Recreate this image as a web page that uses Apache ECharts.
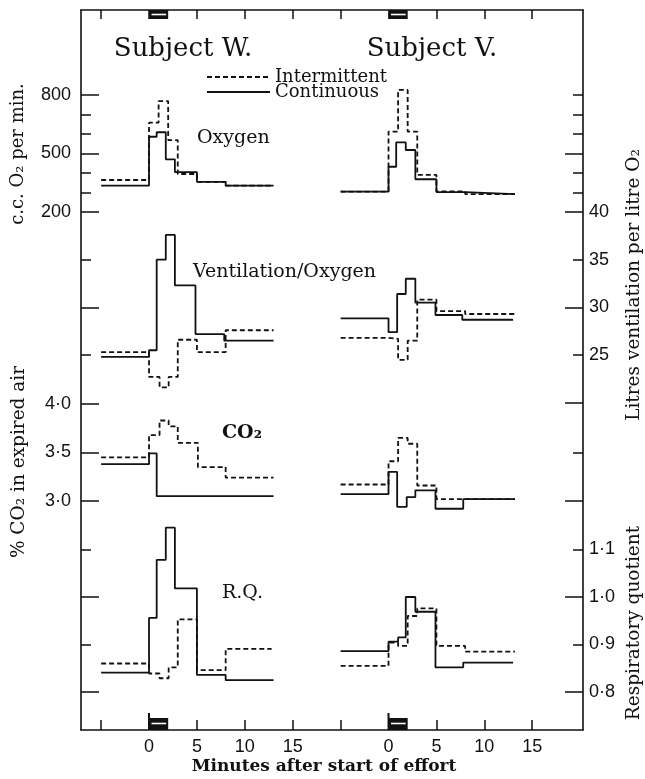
<!DOCTYPE html>
<html><head><meta charset="utf-8">
<script src="https://cdn.jsdelivr.net/npm/echarts@6/dist/echarts.min.js"></script>
<style>html,body{margin:0;padding:0;background:#fff}#c{width:645px;height:779px}</style>
</head><body><div id="c"></div>
<script>
// ---------------- DATA ----------------
const seriesNames = ['Intermittent', 'Continuous'];
const subjects = ['Subject W.', 'Subject V.'];
const xTickValues = [-5, 0, 5, 10, 15];          // minutes (per subject)
const subjectVOffset = 25;                       // V drawn 25 min to the right on the shared axis
const effortPeriod = [0, 2];                     // minutes of effort (black marks)

// Oxygen (c.c. O2 per min.)
const wO2IntT = [-5, 0, 1, 2, 3, 5, 8, 13];
const wO2IntV = [364, 658, 769, 569, 395, 355, 335];
const wO2ConT = [-5, 0, 0.8, 1.75, 2.7, 5, 8, 13];
const wO2ConV = [335, 586, 609, 470, 405, 355, 335];
const vO2IntT = [-5, 0, 1, 2, 3, 5, 8, 13.2];
const vO2IntV = [304, 612, 826, 612, 390, 306, 292];
const vO2ConT = [-5, 0, 0.8, 1.8, 2.8, 5, 8, 13.2];
const vO2ConV = [304, 432, 557, 518, 368, 302, 292];

// Ventilation / Oxygen (litres ventilation per litre O2)
const wVEIntT = [-5, 0, 1.1, 2.05, 3, 5, 8, 13];
const wVEIntV = [25.3, 22.7, 21.6, 22.7, 26.6, 25.3, 27.6];
const wVEConT = [-5, 0, 0.8, 1.75, 2.7, 4.85, 7.85, 13];
const wVEConV = [24.8, 25.5, 35.0, 37.6, 32.3, 27.2, 26.5];
const vVEIntT = [-5, 0, 1, 2, 3, 5, 8, 13.3];
const vVEIntV = [26.8, 26.7, 24.5, 26.5, 30.8, 29.6, 29.3];
const vVEConT = [-5, 0, 0.9, 1.8, 2.8, 4.9, 7.7, 13];
const vVEConV = [28.85, 27.4, 31.4, 33.0, 30.5, 29.2, 28.7];

// % CO2 in expired air
const wCO2IntT = [-5, 0, 1.1, 2.05, 3, 5.1, 8, 13];
const wCO2IntV = [3.45, 3.68, 3.83, 3.77, 3.60, 3.35, 3.24];
const wCO2ConT = [-5, 0, 0.8, 13];
const wCO2ConV = [3.38, 3.49, 3.05];
const vCO2IntT = [-5, 0, 1, 2, 3, 5, 13.2];
const vCO2IntV = [3.17, 3.41, 3.65, 3.59, 3.16, 3.02];
const vCO2ConT = [-5, 0, 0.9, 1.9, 2.8, 4.9, 7.8, 13.2];
const vCO2ConV = [3.07, 3.30, 2.94, 3.04, 3.11, 2.92, 3.02];

// Respiratory quotient
const wRQIntT = [-5, 0, 1.1, 2.05, 3, 5, 8, 12.8];
const wRQIntV = [0.860, 0.839, 0.829, 0.852, 0.953, 0.846, 0.891];
const wRQConT = [-5, 0, 0.8, 1.75, 2.7, 5, 8, 13];
const wRQConV = [0.841, 0.956, 1.078, 1.146, 1.018, 0.836, 0.825];
const vRQIntT = [-5, 0, 1, 2, 3, 5, 8, 13.2];
const vRQIntV = [0.855, 0.904, 0.897, 0.960, 0.976, 0.897, 0.885];
const vRQConT = [-5, 0, 1, 1.8, 2.8, 4.9, 7.8, 13];
const vRQConV = [0.886, 0.906, 0.915, 1.000, 0.969, 0.852, 0.862];

// Tick values
const o2MajorTicks = [200, 500, 800];
const o2MinorTicks = [300, 400, 600, 700];
const o2RightMajor = [500];
const o2RightMinor = [300, 400, 600, 700, 800];
const veLabels = [25, 30, 35, 40];
const veMajorTicks = [20, 30, 40];
const veMinorTicks = [25, 35];
const co2Labels = [3.0, 3.5, 4.0];
const co2RightMajor = [3.0];
const co2RightMinor = [3.5];
const rqLabels = [0.8, 0.9, 1.0, 1.1];
const rqMajorTicks = [0.8, 1.0];
const rqMinorTicks = [0.9, 1.1];

// ---------------- LAYOUT / STYLE ----------------
const INK = '#111';
const FL = 81, FT = 10, FW = 502, FH = 720;   // frame
const XMIN = -7.1, XMAX = 45.3;
const serif = 'DejaVu Serif';
const sans = 'Liberation Sans';
const dot = v => v.toFixed(1).replace('.', '\u00b7');

const panels = [
  { top: 85.25, height: 126.75, min: 200, max: 850,
    lMaj: o2MajorTicks, lMin: o2MinorTicks, lLab: o2MajorTicks, rMaj: o2RightMajor, rMin: o2RightMinor, rLab: [],
    fmt: v => String(v),
    data: [[wO2IntT, wO2IntV, wO2ConT, wO2ConV], [vO2IntT, vO2IntV, vO2ConT, vO2ConV]] },
  { top: 212, height: 190.7, min: 20, max: 40,
    lMaj: [30], lMin: veMinorTicks, lLab: [], rMaj: veMajorTicks, rMin: veMinorTicks, rLab: veLabels,
    fmt: v => String(v),
    data: [[wVEIntT, wVEIntV, wVEConT, wVEConV], [vVEIntT, vVEIntV, vVEConT, vVEConV]] },
  { top: 404, height: 116.4, min: 2.8, max: 4.0,
    lMaj: co2Labels, lMin: [], lLab: co2Labels, rMaj: co2RightMajor, rMin: co2RightMinor, rLab: [],
    fmt: dot,
    data: [[wCO2IntT, wCO2IntV, wCO2ConT, wCO2ConV], [vCO2IntT, vCO2IntV, vCO2ConT, vCO2ConV]] },
  { top: 502, height: 190, min: 0.8, max: 1.2,
    lMaj: rqMajorTicks, lMin: rqMinorTicks, lLab: [], rMaj: rqMajorTicks, rMin: rqMinorTicks, rLab: rqLabels,
    fmt: dot,
    data: [[wRQIntT, wRQIntV, wRQConT, wRQConV], [vRQIntT, vRQIntV, vRQConT, vRQConV]] }
];

function steps(t, v, off) {
  const pts = v.map((y, i) => [t[i] + off, y]);
  pts.push([t[t.length - 1] + off, v[v.length - 1]]);
  return pts;
}

const grid = [], xAxis = [], yAxis = [], series = [];
const labelFont = { fontFamily: sans, fontSize: 18, color: INK };

function yAx(gi, p, position, major, tickVals, labVals) {
  return {
    type: 'value', gridIndex: gi, position, min: p.min, max: p.max,
    axisLine: { show: false, onZero: false }, splitLine: { show: false },
    axisTick: { show: tickVals.length > 0, inside: true, length: major ? 18 : 10,
                customValues: tickVals, lineStyle: { color: INK, width: 1.5 } },
    axisLabel: { show: labVals.length > 0, customValues: labVals, formatter: p.fmt,
                 margin: position === 'left' ? 10 : 6, ...labelFont }
  };
}

panels.forEach((p, gi) => {
  grid.push({ left: FL, top: p.top, width: FW, height: p.height });
  xAxis.push({ type: 'value', gridIndex: gi, min: XMIN, max: XMAX, show: false, axisLine: { onZero: false } });
  const base = yAxis.length;
  yAxis.push(yAx(gi, p, 'left', true, p.lMaj, p.lLab));
  yAxis.push(yAx(gi, p, 'left', false, p.lMin, []));
  yAxis.push(yAx(gi, p, 'right', true, p.rMaj, p.rLab));
  yAxis.push(yAx(gi, p, 'right', false, p.rMin, []));
  p.data.forEach((d, si) => {
    const off = si === 0 ? 0 : subjectVOffset;
    [[d[0], d[1], 0], [d[2], d[3], 1]].forEach(([t, v, k]) => {
      series.push({
        type: 'line', name: seriesNames[k], xAxisIndex: gi, yAxisIndex: base,
        step: 'end', symbol: 'none', clip: false, silent: true,
        data: steps(t, v, off),
        itemStyle: { color: INK },
        lineStyle: { color: INK, width: 1.8, type: k === 0 ? [5, 3] : 'solid' },
        z: k === 0 ? 3 : 4
      });
    });
  });
});

// frame grid
const fg = grid.length;
grid.push({ left: FL, top: FT, width: FW, height: FH });
const allTicks = [...xTickValues, ...xTickValues.map(v => v + subjectVOffset)];
const labTicks = allTicks.filter(v => (v >= 0 && v < subjectVOffset - 5) || v >= subjectVOffset);
const frameLine = { show: true, onZero: false, lineStyle: { color: INK, width: 1.6 } };
xAxis.push({ type: 'value', gridIndex: fg, min: XMIN, max: XMAX, position: 'bottom',
  axisLine: frameLine, splitLine: { show: false },
  axisTick: { inside: true, length: 10, customValues: allTicks, lineStyle: { color: INK, width: 1.5 } },
  axisLabel: { customValues: labTicks, margin: 8, formatter: v => String(v >= subjectVOffset ? v - subjectVOffset : v), ...labelFont } });
xAxis.push({ type: 'value', gridIndex: fg, min: XMIN, max: XMAX, position: 'top',
  axisLine: frameLine, splitLine: { show: false },
  axisTick: { inside: true, length: 9, customValues: allTicks, lineStyle: { color: INK, width: 1.5 } },
  axisLabel: { show: false } });
const fy = yAxis.length;
yAxis.push({ type: 'value', gridIndex: fg, min: 0, max: 1, position: 'left', axisLine: frameLine,
  axisTick: { show: false }, axisLabel: { show: false }, splitLine: { show: false } });
yAxis.push({ type: 'value', gridIndex: fg, min: 0, max: 1, position: 'right', axisLine: frameLine,
  axisTick: { show: false }, axisLabel: { show: false }, splitLine: { show: false } });

// effort marks
series.push({
  type: 'custom', xAxisIndex: fg, yAxisIndex: fy, silent: true, z: 10,
  data: [[effortPeriod[0], effortPeriod[1]], [effortPeriod[0] + subjectVOffset, effortPeriod[1] + subjectVOffset]],
  renderItem(params, api) {
    const x0 = api.coord([api.value(0), 0])[0];
    const x1 = api.coord([api.value(1), 0])[0];
    const cs = params.coordSys;
    const yb = cs.y + cs.height;
    return { type: 'group', children: [
      { type: 'rect', shape: { x: x0, y: cs.y, width: x1 - x0, height: 9 }, style: { fill: INK } },
      { type: 'line', shape: { x1: x0 + 2.5, y1: cs.y + 4.5, x2: x1 - 2, y2: cs.y + 4.5 }, style: { stroke: '#fff', lineWidth: 1.6 } },
      { type: 'line', shape: { x1: x0, y1: yb - 17, x2: x0, y2: yb }, style: { stroke: INK, lineWidth: 2 } },
      { type: 'rect', shape: { x: x0, y: yb - 12, width: x1 - x0, height: 12 }, style: { fill: INK } },
      { type: 'line', shape: { x1: x0 + 2.5, y1: yb - 6.5, x2: x1 - 2, y2: yb - 6.5 }, style: { stroke: '#fff', lineWidth: 1.6 } }
    ] };
  }
});

function txt(text, x, y, opt = {}) {
  return { type: 'text', x, y, rotation: opt.rot || 0, silent: true, z: 20,
    style: { text, fill: INK, font: opt.font || `19px "${serif}"`,
             textAlign: opt.align || 'left', textVerticalAlign: 'middle' } };
}

const graphic = [
  txt(subjects[0], 183, 49, { font: `26px "${serif}"`, align: 'center' }),
  txt(subjects[1], 432, 49, { font: `26px "${serif}"`, align: 'center' }),
  txt('Oxygen', 197, 138),
  txt('Ventilation/Oxygen', 193, 272),
  txt('CO\u2082', 222, 433, { font: `bold 19px "${serif}"` }),
  txt('R.Q.', 222, 593),
  txt('c.c. O\u2082 per min.', 18, 154, { rot: Math.PI / 2, align: 'center', font: `18px "${serif}"` }),
  txt('% CO\u2082 in expired air', 19, 462, { rot: Math.PI / 2, align: 'center', font: `18.5px "${serif}"` }),
  txt('Litres ventilation per litre O\u2082', 634, 285, { rot: Math.PI / 2, align: 'center', font: `18.5px "${serif}"` }),
  txt('Respiratory quotient', 634, 623, { rot: Math.PI / 2, align: 'center', font: `18.5px "${serif}"` }),
  txt('Minutes after start of effort', 324, 767, { align: 'center', font: `bold 17px "${serif}"` })
];

const chart = echarts.init(document.getElementById('c'), null, { renderer: 'canvas' });
chart.setOption({
  backgroundColor: '#fff',
  animation: false,
  grid, xAxis, yAxis, series, graphic,
  legend: {
    data: seriesNames, left: 201, top: 63, orient: 'vertical', selectedMode: false,
    itemWidth: 63, itemHeight: 10, itemGap: -3,
    itemStyle: { opacity: 0 },
    textStyle: { fontFamily: serif, fontSize: 18, color: INK, lineHeight: 16 }
  }
});
</script>
</body></html>
